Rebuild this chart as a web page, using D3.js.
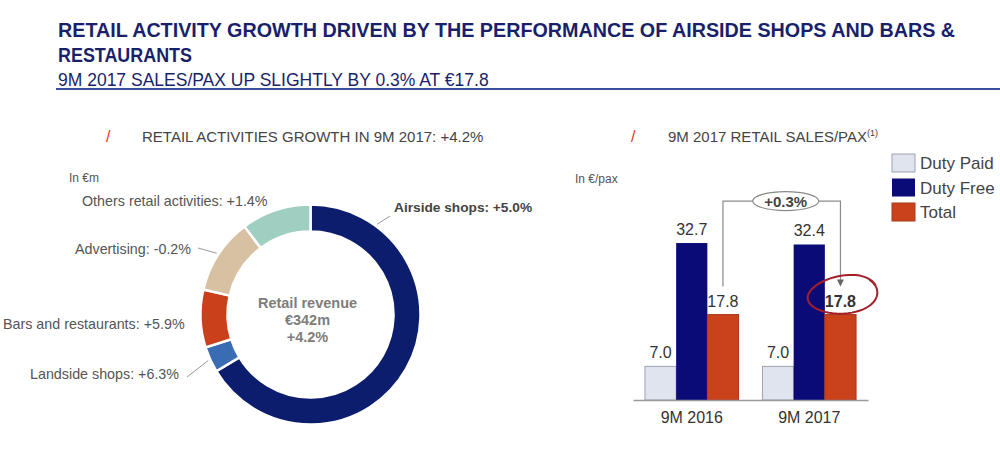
<!DOCTYPE html>
<html>
<head>
<meta charset="utf-8">
<script src="https://cdn.jsdelivr.net/npm/d3@7"></script>
<style>
  body { margin: 0; background: #fff; }
  text { font-family: "Liberation Sans", Arial, sans-serif; }
</style>
</head>
<body>
<div id="chart"></div>
<script>
// donut data (in €m)
const segments = ["Airside shops", "Landside shops", "Bars and restaurants", "Advertising", "Others retail activities"];
const segmentValues = [227, 13, 29, 38, 35];
const segmentGrowth = ["+5.0%", "+6.3%", "+5.9%", "-0.2%", "+1.4%"];
const segmentColors = ["#0c1d6e", "#3a6cb4", "#c9401b", "#d8c0a2", "#9fcfc1"];

// bar data (in €/pax)
const periods = ["9M 2016", "9M 2017"];
const series = ["Duty Paid", "Duty Free", "Total"];
const dutyPaid = [7.0, 7.0];
const dutyFree = [32.7, 32.4];
const total = [17.8, 17.8];
const seriesColors = ["#dfe4ef", "#0b0b78", "#c9421c"];

const W = 1000, H = 450;
const svg = d3.select("#chart").append("svg")
    .attr("width", W)
    .attr("height", H);

/* Header */
const navy = "#1a1f6c";
svg.append("text")
    .attr("x", 58).attr("y", 37)
    .attr("font-size", "20px").attr("font-weight", "bold")
    .attr("fill", navy)
    .attr("textLength", 897).attr("lengthAdjust", "spacingAndGlyphs")
    .text("RETAIL ACTIVITY GROWTH DRIVEN BY THE PERFORMANCE OF AIRSIDE SHOPS AND BARS &");
svg.append("text")
    .attr("x", 58).attr("y", 62)
    .attr("font-size", "20px").attr("font-weight", "bold")
    .attr("fill", navy)
    .attr("textLength", 134).attr("lengthAdjust", "spacingAndGlyphs")
    .text("RESTAURANTS");
svg.append("text")
    .attr("x", 58).attr("y", 86)
    .attr("font-size", "17.5px")
    .attr("fill", navy)
    .text("9M 2017 SALES/PAX UP SLIGHTLY BY 0.3% AT €17.8");
svg.append("line")
    .attr("x1", 56).attr("x2", W)
    .attr("y1", 89).attr("y2", 89)
    .attr("stroke", "#3c4f9e").attr("stroke-width", 2);

// section titles
function sectionTitle(xs, xt, label, sup) {
    svg.append("text")
        .attr("x", xs).attr("y", 142)
        .attr("font-size", "16px").attr("fill", "#d93a1f")
        .text("/");
    const t = svg.append("text")
        .attr("x", xt).attr("y", 142)
        .attr("font-size", "15px").attr("fill", "#444")
        .text(label);
    if (sup) {
        t.append("tspan").attr("font-size", "9px").attr("dy", -6).text(sup);
    }
}
sectionTitle(106, 142, "RETAIL ACTIVITIES GROWTH IN 9M 2017: +4.2%");
sectionTitle(631, 668, "9M 2017 RETAIL SALES/PAX", "(1)");

/* Donut */
const cx = 310.5, cy = 314.5, rOut = 110, rIn = 83;

svg.append("text")
    .attr("x", 69).attr("y", 182)
    .attr("font-size", "12px").attr("fill", "#555")
    .text("In €m");

const pie = d3.pie().sort(null)(segmentValues);
const arc = d3.arc().innerRadius(rIn).outerRadius(rOut);

const donut = svg.append("g")
    .attr("transform", `translate(${cx},${cy})`);

donut.selectAll("path")
    .data(pie)
    .enter()
    .append("path")
    .attr("d", arc)
    .attr("fill", (d, i) => segmentColors[i])
    .attr("stroke", "#fff")
    .attr("stroke-width", 2.5);

// point round the ring at an angle (radians from 12 o'clock)
function edge(a, r) {
    return [cx + r * Math.sin(a), cy - r * Math.cos(a)];
}

// label placement: text anchor point, and the ring angle a leader starts from (null = no leader)
const labelPos = [
    {x: 394, y: 212, leadAngle: 0.635, leadEnd: [390, 216], bold: true},
    {x: 30,  y: 379, leadAngle: "mid", leadEnd: [187, 377]},
    {x: 3,   y: 329, leadAngle: null},
    {x: 75,  y: 254, leadAngle: "mid", leadEnd: [198, 248]},
    {x: 82,  y: 206, leadAngle: null}
];

pie.forEach(function(d, i) {
    const p = labelPos[i];
    svg.append("text")
        .attr("x", p.x).attr("y", p.y)
        .attr("font-size", p.bold ? "13.7px" : "14.3px")
        .attr("font-weight", p.bold ? "bold" : "normal")
        .attr("fill", p.bold ? "#444" : "#555")
        .text(segments[i] + ": " + segmentGrowth[i]);
    if (p.leadAngle !== null) {
        const a = p.leadAngle === "mid" ? (d.startAngle + d.endAngle) / 2 : p.leadAngle;
        const s = edge(a, rOut + 2);
        svg.append("line")
            .attr("x1", s[0]).attr("y1", s[1])
            .attr("x2", p.leadEnd[0]).attr("y2", p.leadEnd[1])
            .attr("stroke", "#9a9a9a").attr("stroke-width", 1);
    }
});

const centre = svg.append("text")
    .attr("text-anchor", "middle")
    .attr("font-size", "14.5px").attr("font-weight", "bold")
    .attr("fill", "#7d7d7d");
["Retail revenue", "€" + d3.sum(segmentValues) + "m", "+4.2%"].forEach(function(s, i) {
    centre.append("tspan").attr("x", cx - 3).attr("y", 308 + i * 17).text(s);
});

/* Bars */
const baseY = 400;
const y = d3.scaleLinear().domain([0, 40]).range([baseY, baseY - 192]);
const x0 = d3.scaleBand().domain(periods).range([633, 868])
    .paddingInner(0.2034).paddingOuter(0.1017);
const x1 = d3.scaleBand().domain(series).range([0, x0.bandwidth()]);

svg.append("text")
    .attr("x", 575).attr("y", 183)
    .attr("font-size", "12px").attr("fill", "#555")
    .text("In €/pax");

const rows = periods.map((p, i) => ({period: p, values: [dutyPaid[i], dutyFree[i], total[i]]}));

const groups = svg.selectAll(".grp")
    .data(rows)
    .enter()
    .append("g")
    .attr("class", "grp")
    .attr("transform", d => `translate(${x0(d.period)},0)`);

groups.selectAll("rect")
    .data(d => d.values.map((v, j) => ({s: series[j], v: v})))
    .enter()
    .append("rect")
    .attr("x", d => x1(d.s))
    .attr("y", d => y(d.v))
    .attr("width", x1.bandwidth())
    .attr("height", d => baseY - y(d.v))
    .attr("fill", (d, j) => seriesColors[j])
    .attr("stroke", (d, j) => j === 0 ? "#9da3b0" : (j === 2 ? "#a8391a" : "none"))
    .attr("stroke-width", 1);

groups.selectAll(".val")
    .data((d, gi) => d.values.map((v, j) => ({s: series[j], v: v, bold: gi === 1 && j === 2})))
    .enter()
    .append("text")
    .attr("class", "val")
    .attr("x", d => x1(d.s) + x1.bandwidth() / 2)
    .attr("y", d => y(d.v) - 8)
    .attr("text-anchor", "middle")
    .attr("font-size", "16px")
    .attr("font-weight", d => d.bold ? "bold" : "normal")
    .attr("fill", "#333")
    .text(d => d.v.toFixed(1));

// x axis
const xAxis = svg.append("g")
    .attr("transform", `translate(0,${baseY})`)
    .call(d3.axisBottom(x0).tickSize(0).tickPadding(12));
xAxis.select(".domain").attr("stroke", "#9a9a9a").attr("stroke-width", 1.5);
xAxis.selectAll("text")
    .attr("font-size", "16px")
    .attr("fill", "#333")
    .attr("font-family", "Liberation Sans, Arial, sans-serif");

// bracket between the two totals
const xa = x0(periods[0]) + x1("Total") + x1.bandwidth() / 2;
const xb = x0(periods[1]) + x1("Total") + x1.bandwidth() / 2;
const yTop = y(d3.max(dutyFree)) - 42;
svg.append("path")
    .attr("d", `M${xa},${y(total[0]) - 28}V${yTop}H${xb}V${y(total[1]) - 30}`)
    .attr("fill", "none").attr("stroke", "#8a8a8a").attr("stroke-width", 1.2);
svg.append("path")
    .attr("d", `M${xb - 3.5},${y(total[1]) - 35}L${xb + 3.5},${y(total[1]) - 35}L${xb},${y(total[1]) - 28}Z`)
    .attr("fill", "#666");
const midX = (xa + xb) / 2 + 4;
svg.append("ellipse")
    .attr("cx", midX).attr("cy", yTop)
    .attr("rx", 33).attr("ry", 9.5)
    .attr("fill", "#fff").attr("stroke", "#8a8a8a").attr("stroke-width", 1.2);
svg.append("text")
    .attr("x", midX).attr("y", yTop + 5.5)
    .attr("text-anchor", "middle")
    .attr("font-size", "15px").attr("font-weight", "bold")
    .attr("fill", "#444")
    .text("+0.3%");

// hand-drawn circle around the 9M 2017 total
const ex = xb + 3, ey = y(total[1]) - 20;
const ring = d3.path();
const steps = 60;
for (let k = 0; k <= steps; k++) {
    const t = -0.6 + (k / steps) * (Math.PI * 2 + 0.35);
    const rx = 34 + 2 * Math.sin(t * 0.5), ry = 19 + 1.5 * Math.cos(t);
    const px = rx * Math.cos(t), py = ry * Math.sin(t);
    const rot = -0.12;
    const X = ex + px * Math.cos(rot) - py * Math.sin(rot);
    const Y = ey + px * Math.sin(rot) + py * Math.cos(rot);
    if (k === 0) ring.moveTo(X, Y); else ring.lineTo(X, Y);
}
svg.append("path")
    .attr("d", ring.toString())
    .attr("fill", "none").attr("stroke", "#a3202b").attr("stroke-width", 2);

// legend
const legend = svg.append("g").attr("transform", "translate(892,154)");
series.forEach(function(s, i) {
    legend.append("rect")
        .attr("x", 0).attr("y", i * 24.5)
        .attr("width", 23).attr("height", 18)
        .attr("fill", seriesColors[i])
        .attr("stroke", i === 0 ? "#9da3b0" : (i === 2 ? "#a8391a" : "none"));
    legend.append("text")
        .attr("x", 28).attr("y", i * 24.5 + 15)
        .attr("font-size", "17px").attr("fill", "#444")
        .text(s);
});
</script>
</body>
</html>
